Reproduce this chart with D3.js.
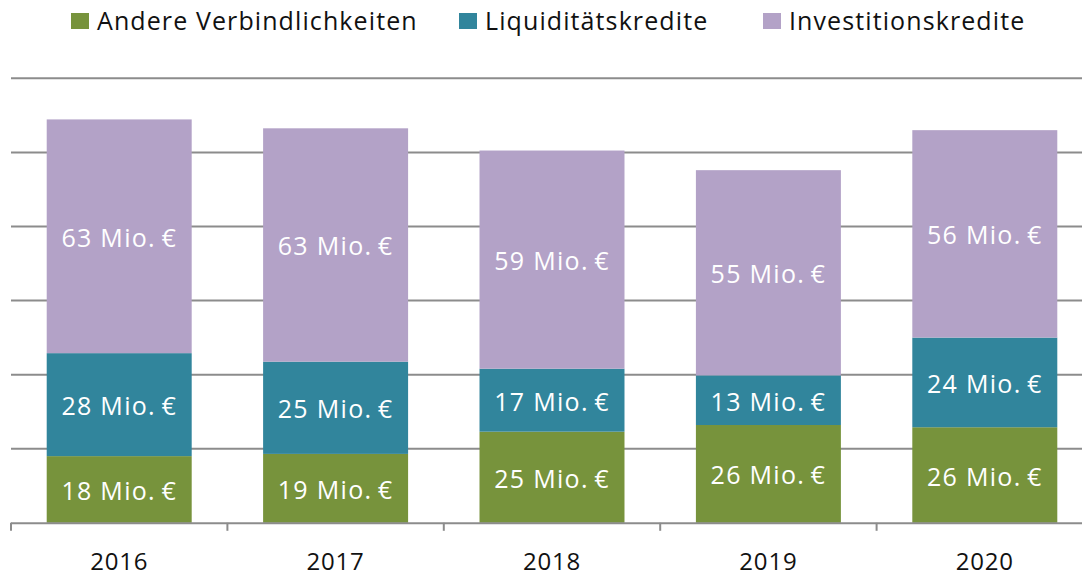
<!DOCTYPE html>
<html>
<head>
<meta charset="utf-8">
<script src="https://cdn.jsdelivr.net/npm/d3@7"></script>
<style>
  body { margin: 0; background: #fff; }
  svg { display: block; font-family: "Open Sans", sans-serif; }
</style>
</head>
<body>
<svg id="chart"></svg>
<script>
var width = 1082;
var height = 576;

// data (Mio. €)
var years = ["2016", "2017", "2018", "2019", "2020"];
var andere = [18.0, 18.6, 24.6, 26.4, 25.8];
var liquiditaet = [27.8, 24.9, 17.0, 13.4, 24.2];
var investition = [63.1, 63.0, 58.9, 55.4, 56.0];
var seriesNames = ["Andere Verbindlichkeiten", "Liquiditätskredite", "Investitionskredite"];
var seriesColors = ["#77933c", "#31859c", "#b3a2c7"];
var gridTicks = [0, 20, 40, 60, 80, 100, 120];

var svg = d3.select('#chart')
    .attr('width', width)
    .attr('height', height);

// plot runs past the right edge of the picture (it was cropped)
var x = d3.scaleBand()
    .domain(years)
    .range([11, 1093])
    .paddingInner(0.33)
    .paddingOuter(0.165);

var y = d3.scaleLinear()
    .domain([0, 120])
    .range([522.8, 78.3]);

// gridlines
svg.append('g')
  .selectAll('line')
  .data(gridTicks.slice(1))
  .enter().append('line')
    .attr('x1', 11)
    .attr('x2', width)
    .attr('y1', function (d) { return y(d); })
    .attr('y2', function (d) { return y(d); })
    .style('stroke', '#8c8c8c')
    .style('stroke-width', 2);

// stack the three series
var table = years.map(function (yr, i) {
  return { year: yr, a: andere[i], l: liquiditaet[i], v: investition[i] };
});
var stack = d3.stack().keys(['a', 'l', 'v']);
var layers = stack(table);

var layerG = svg.selectAll('g.layer')
    .data(layers)
    .enter().append('g')
    .attr('class', 'layer')
    .style('fill', function (d, i) { return seriesColors[i]; });

layerG.selectAll('rect')
    .data(function (d) { return d; })
    .enter().append('rect')
    .attr('x', function (d) { return x(d.data.year); })
    .attr('width', x.bandwidth())
    .attr('y', function (d) { return y(d[1]); })
    .attr('height', function (d) { return y(d[0]) - y(d[1]); });

// value labels
layerG.selectAll('text')
    .data(function (d) { return d; })
    .enter().append('text')
    .attr('x', function (d) { return x(d.data.year) + x.bandwidth() / 2; })
    .attr('y', function (d) { return (y(d[0]) + y(d[1])) / 2; })
    .attr('dy', '0.42em')
    .attr('text-anchor', 'middle')
    .style('fill', '#fff')
    .style('font-size', '25px')
    .style('letter-spacing', '1.3px')
    .text(function (d) { return Math.round(d[1] - d[0]) + ' Mio.\u2009€'; });

// x axis line with ticks between categories
var axisG = svg.append('g');
axisG.append('line')
    .attr('x1', 11).attr('x2', width)
    .attr('y1', y(0) + 0.5).attr('y2', y(0) + 0.5)
    .style('stroke', '#8c8c8c')
    .style('stroke-width', 2);

var step = x.step();
var tickX = d3.range(years.length + 1).map(function (i) { return 11 + i * step; });
axisG.selectAll('line.tick')
    .data(tickX)
    .enter().append('line')
    .attr('class', 'tick')
    .attr('x1', function (d) { return d; })
    .attr('x2', function (d) { return d; })
    .attr('y1', y(0))
    .attr('y2', y(0) + 8)
    .style('stroke', '#8c8c8c')
    .style('stroke-width', 2);

axisG.selectAll('text')
    .data(years)
    .enter().append('text')
    .attr('x', function (d) { return x(d) + x.bandwidth() / 2; })
    .attr('y', 570)
    .attr('text-anchor', 'middle')
    .style('font-size', '24px')
    .style('letter-spacing', '0.8px')
    .style('fill', '#111')
    .text(function (d) { return d; });

// legend
var legendX = [71, 459, 763];
var legend = svg.selectAll('g.legend')
    .data(seriesNames)
    .enter().append('g')
    .attr('class', 'legend')
    .attr('transform', function (d, i) { return 'translate(' + legendX[i] + ',0)'; });

legend.append('rect')
    .attr('x', 0).attr('y', 13)
    .attr('width', 18).attr('height', 16)
    .style('fill', function (d, i) { return seriesColors[i]; });

legend.append('text')
    .attr('x', 26)
    .attr('y', 30)
    .style('font-size', '25px')
    .style('letter-spacing', '1.1px')
    .style('fill', '#111')
    .text(function (d) { return d; });
</script>
</body>
</html>
